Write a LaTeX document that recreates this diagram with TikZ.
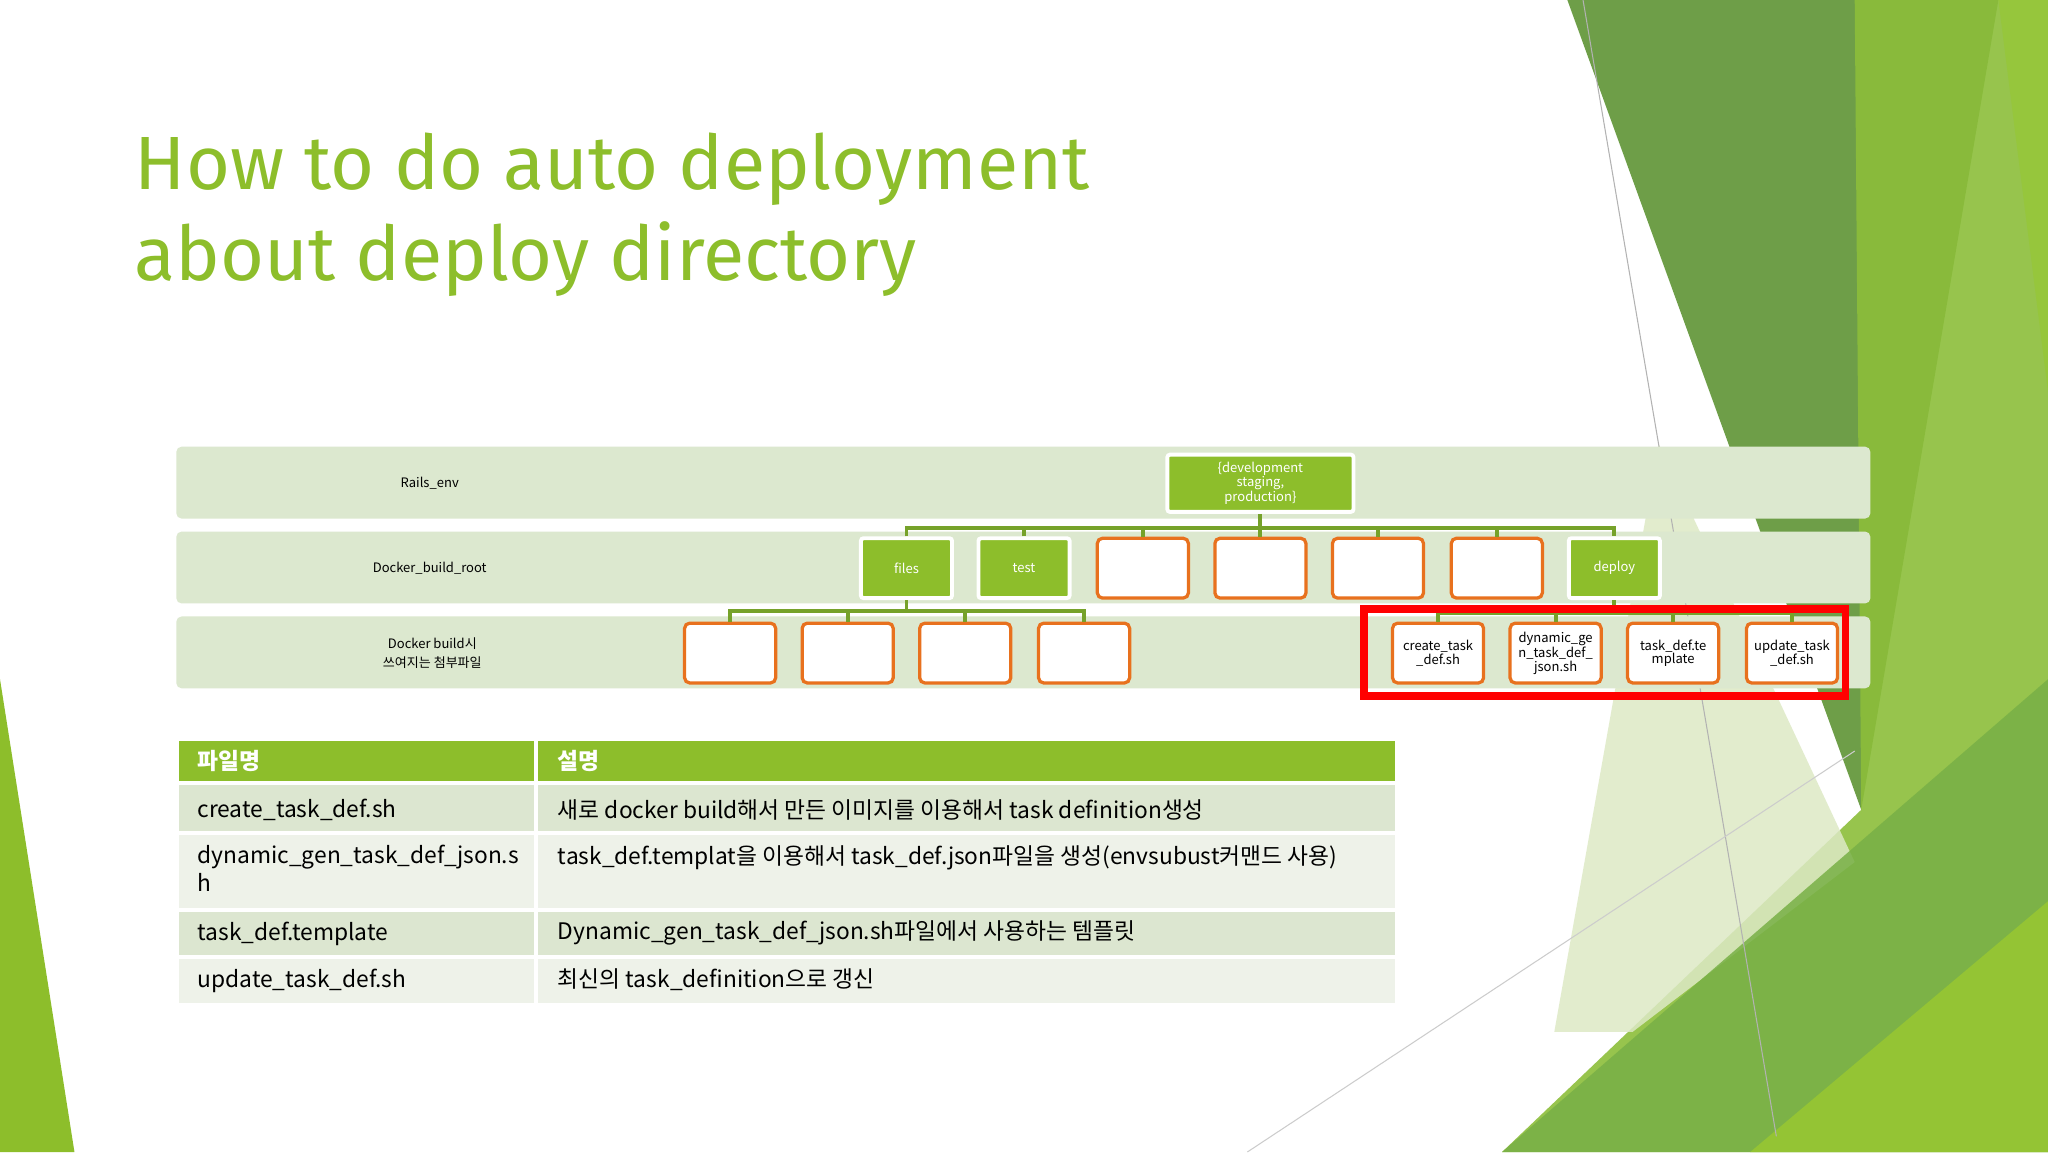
\documentclass[tikz,border=0pt]{standalone}
\usepackage{fontspec}
\setmainfont{Fira Sans}
\newfontfamily\kr{Noto Sans CJK KR}
\definecolor{tgreen}{HTML}{8DBE2B}
\definecolor{band}{HTML}{DCE8CF}
\definecolor{conn}{HTML}{76A22A}
\definecolor{oran}{HTML}{E8711E}
\definecolor{rowA}{HTML}{DCE6D0}
\definecolor{rowB}{HTML}{EEF2E9}
\definecolor{bgA}{RGB}{110,158,72}
\definecolor{bgB}{RGB}{140,190,58}
\definecolor{bgC}{RGB}{221,233,197}
\definecolor{bgD}{RGB}{120,176,70}
\definecolor{bgE}{RGB}{148,196,52}
\definecolor{bgF}{RGB}{150,198,60}
\tikzset{
 bandbox/.style={fill=band,rounded corners=4},
 greenbox/.style={fill=tgreen,draw=white,line width=3,rounded corners=2,minimum width=70,minimum height=46,text=white,font=\kr\fontsize{10}{11}\selectfont,align=center,inner sep=1},
 orbox/.style={fill=white,draw=oran,line width=2.5,rounded corners=4,minimum width=70,minimum height=46,font=\kr\fontsize{10}{10.5}\selectfont,align=center,inner sep=1},
 conline/.style={draw=conn,line width=3},
 rowlabel/.style={font=\kr\fontsize{10}{15}\selectfont,align=center},
 celltext/.style={anchor=west,font=\kr\fontsize{17.5}{21}\selectfont,align=left,inner sep=0},
}
\begin{document}
\begin{tikzpicture}[x=1bp,y=-1bp]
\useasboundingbox (0,0) rectangle (1568,882);
\fill[white] (0,0) rectangle (1568,882);
% background shapes
\fill[bgA] (1200,0)--(1530,0)--(1425,620)--cycle;
\fill[bgB,opacity=0.9] (1420,0)--(1568,0)--(1568,882)--(1150,882)--(1425,620)--cycle;
\fill[bgC,opacity=0.85] (1270,340)--(1420,660)--(1250,790)--(1190,790)--cycle;
\fill[bgD,opacity=0.85] (1150,882)--(1568,520)--(1568,882)--cycle;
\fill[bgE] (1340,882)--(1568,690)--(1568,882)--cycle;
\fill[bgF] (1530,0)--(1568,0)--(1568,300)--cycle;
\draw[gray!60,line width=0.8] (1212,0)--(1360,870);
\draw[gray!40,line width=0.8] (955,882)--(1420,575);
\fill[tgreen] (0,520)--(0,882)--(57,882)--cycle;
% title
\node[anchor=base west,text=tgreen,font=\fontsize{58}{70}\selectfont,inner sep=0] (t1) at (103,145) {How to do auto deployment};
\node[anchor=base west,text=tgreen,font=\fontsize{58}{70}\selectfont,inner sep=0] (t2) at (103,215) {about deploy directory};
% bands
\fill[bandbox] (135,342) rectangle (1432,397);
\fill[bandbox] (135,407) rectangle (1432,462);
\fill[bandbox] (135,472) rectangle (1432,527);
\node[rowlabel] (l1) at (329,370) {Rails\_env};
\node[rowlabel] (l2) at (329,435) {Docker\_build\_root};
\node[rowlabel] (l3) at (331,500) {Docker build시\\쓰여지는 첨부파일};
% nodes
\node[greenbox,minimum width=143,minimum height=44] (top) at (965,370) {\{development\\staging,\\production\}};
\node[greenbox] (files) at (694,435) {files};
\node[greenbox] (test) at (784,435) {test};
\node[orbox] (e1) at (875,435) {};
\node[orbox] (e2) at (965,435) {};
\node[orbox] (e3) at (1055,435) {};
\node[orbox] (e4) at (1146,435) {};
\node[greenbox] (deploy) at (1236,435) {deploy};
\node[orbox] (f1) at (559,500) {};
\node[orbox] (f2) at (649,500) {};
\node[orbox] (f3) at (739,500) {};
\node[orbox] (f4) at (830,500) {};
\node[orbox] (d1) at (1101,500) {create\_task\\\_def.sh};
\node[orbox] (d2) at (1191,500) {dynamic\_ge\\n\_task\_def\_\\json.sh};
\node[orbox] (d3) at (1281,500) {task\_def.te\\mplate};
\node[orbox] (d4) at (1372,500) {update\_task\\\_def.sh};
% connectors
\coordinate (b1) at (965,404);
\draw[conline] (top.south)--(b1);
\draw[conline] (files.north)--(files.north|-b1)--(deploy.north|-b1)--(deploy.north);
\foreach \n in {test,e1,e2,e3,e4} \draw[conline] (\n.north)--(\n.north|-b1);
\coordinate (b2) at (694,468);
\draw[conline] (files.south)--(b2);
\draw[conline] (f1.north)--(f1.north|-b2)--(f4.north|-b2)--(f4.north);
\foreach \n in {f2,f3} \draw[conline] (\n.north)--(\n.north|-b2);
\coordinate (b3) at (1236,469);
\draw[conline] (deploy.south)--(b3);
\draw[conline] (d1.north)--(d1.north|-b3)--(d4.north|-b3)--(d4.north);
\foreach \n in {d2,d3} \draw[conline] (\n.north)--(\n.north|-b3);
\draw[red,line width=6] (1044,466) rectangle (1413,533);
% table
\fill[tgreen] (137,567) rectangle (409,598);
\fill[tgreen] (412,567) rectangle (1068,598);
\fill[rowA] (137,601) rectangle (409,636); \fill[rowA] (412,601) rectangle (1068,636);
\fill[rowB] (137,639) rectangle (409,695); \fill[rowB] (412,639) rectangle (1068,695);
\fill[rowA] (137,698) rectangle (409,731); \fill[rowA] (412,698) rectangle (1068,731);
\fill[rowB] (137,734) rectangle (409,768); \fill[rowB] (412,734) rectangle (1068,768);
\node[celltext,text=white,font=\kr\bfseries\fontsize{17.5}{21}\selectfont] (h1) at (151,583) {파일명};
\node[celltext,text=white,font=\kr\bfseries\fontsize{17.5}{21}\selectfont] (h2) at (427,583) {설명};
\node[celltext] (c11) at (151,620) {create\_task\_def.sh};
\node[celltext] (c12) at (427,620) {새로 docker build해서 만든 이미지를 이용해서 task definition생성};
\node[celltext,anchor=north west] (c21) at (151,647) {dynamic\_gen\_task\_def\_json.s\\h};
\node[celltext] (c22) at (427,657) {task\_def.templat을 이용해서 task\_def.json파일을 생성(envsubust커맨드 사용)};
\node[celltext] (c31) at (151,715) {task\_def.template};
\node[celltext] (c32) at (427,714) {Dynamic\_gen\_task\_def\_json.sh파일에서 사용하는 템플릿};
\node[celltext] (c41) at (151,751) {update\_task\_def.sh};
\node[celltext] (c42) at (427,750) {최신의 task\_definition으로 갱신};
\end{tikzpicture}
\end{document}
